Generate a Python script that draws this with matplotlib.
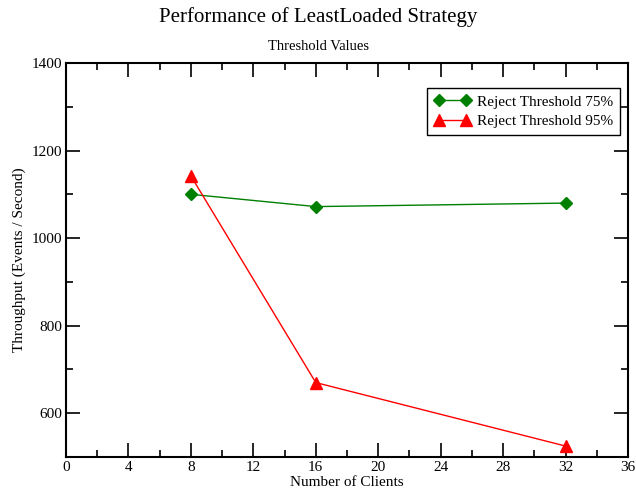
import matplotlib
matplotlib.use("Agg")
import matplotlib.pyplot as plt
from matplotlib.ticker import MultipleLocator

plt.rcParams['font.family'] = ['Liberation Serif', 'DejaVu Serif']

clients = [8, 16, 32]
thr75 = [1100, 1072, 1080]
thr95 = [1142, 670, 525]

fig = plt.figure(figsize=(6.36, 4.93), dpi=100)
ax = fig.add_axes([66 / 636, 1 - 457 / 493, 562 / 636, 394 / 493])

ax.plot(clients, thr75, color='green', marker='D', markersize=6.5, linewidth=1,
        label='Reject Threshold 75%')
ax.plot(clients, thr95, color='red', marker='^', markersize=8.5, linewidth=1,
        label='Reject Threshold 95%')

ax.set_xlim(0, 36)
ax.set_ylim(500, 1400)
ax.xaxis.set_major_locator(MultipleLocator(4))
ax.xaxis.set_minor_locator(MultipleLocator(2))
ax.yaxis.set_major_locator(MultipleLocator(200))
ax.yaxis.set_minor_locator(MultipleLocator(100))
ax.tick_params(which='both', direction='in', top=True, right=True, labelsize=11, width=1.2)
ax.tick_params(which='major', length=10, pad=3)
ax.tick_params(which='minor', length=5)
for s in ax.spines.values():
    s.set_linewidth(1.5)

ax.set_xlabel('Number of Clients', fontsize=11, labelpad=1)
ax.set_ylabel('Throughput (Events / Second)', fontsize=11, labelpad=4)

fig.text(0.5, 1 - 17 / 493, 'Performance of LeastLoaded Strategy', ha='center', va='center', fontsize=15)
fig.text(0.5, 1 - 46 / 493, 'Threshold Values', ha='center', va='center', fontsize=10.5)

leg = ax.legend(loc='upper right', bbox_to_anchor=(554 / 562, 1 - 25 / 394), fontsize=11,
                fancybox=False, framealpha=1, edgecolor='black', borderpad=0.45,
                numpoints=2, handlelength=2.4, handletextpad=0.4, labelspacing=0.4,
                borderaxespad=0)
leg.get_frame().set_linewidth(1)

fig.savefig('out.png', dpi=100)
